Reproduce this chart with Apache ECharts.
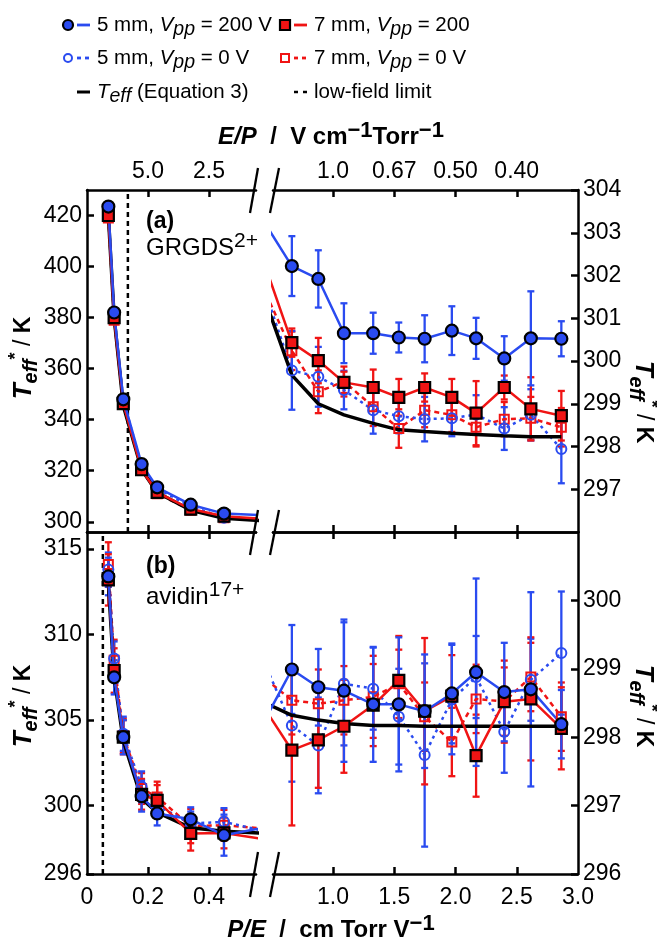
<!DOCTYPE html>
<html><head><meta charset="utf-8">
<script src="https://cdn.jsdelivr.net/npm/echarts@6/dist/echarts.min.js"></script>
<style>html,body{margin:0;padding:0;background:#fff}#c{width:657px;height:944px}</style>
</head><body><div id="c"></div>
<script>
// ---------------- DATA ----------------
const pe = [0.070, 0.089, 0.119, 0.179, 0.230, 0.340, 0.449, 0.664, 0.880, 1.089, 1.328, 1.537, 1.748, 1.970, 2.168, 2.398, 2.615, 2.864];

// Panel (a) GRGDS2+
const a5mm200    = [423.5, 382.0, 348.0, 322.6, 313.5, 306.7, 303.2, 302.22, 301.92, 300.65, 300.65, 300.55, 300.52, 300.71, 300.53, 300.06, 300.53, 300.52];
const a5mm200Err = [1.0, 1.0, 0.8, 0.7, 0.6, 0.6, 0.6, 0.70, 0.67, 0.70, 0.48, 0.35, 0.55, 0.57, 0.48, 0.52, 1.10, 0.41];
const a7mm200    = [420.0, 380.0, 346.3, 320.4, 311.5, 305.0, 302.2, 300.43, 300.01, 299.50, 299.38, 299.15, 299.38, 299.15, 298.78, 299.38, 298.88, 298.72];
const a7mm200Err = [1.0, 1.0, 0.8, 0.7, 0.6, 0.6, 0.6, 0.33, 0.53, 0.25, 0.42, 0.43, 0.33, 0.43, 0.75, 0.28, 0.74, 0.58];
const a5mm0      = [422.0, 381.0, 347.5, 322.0, 313.0, 306.0, 301.6, 299.78, 299.63, 299.32, 298.85, 298.71, 298.64, 298.66, 298.75, 298.42, 298.74, 297.94];
const a5mm0Err   = [1.0, 1.0, 0.8, 0.7, 0.6, 0.6, 0.6, 0.92, 0.70, 0.45, 0.55, 0.40, 0.52, 0.42, 0.45, 0.50, 0.60, 0.80];
const a7mm0      = [419.0, 379.0, 346.0, 320.5, 311.0, 304.5, 301.6, 300.24, 299.28, 299.52, 298.93, 298.42, 298.85, 298.74, 298.45, 298.64, 298.66, 298.45];
const a7mm0Err   = [1.0, 1.0, 0.8, 0.7, 0.6, 0.6, 0.6, 0.45, 0.50, 0.35, 0.45, 0.45, 0.40, 0.40, 0.45, 0.40, 0.50, 0.45];
const aTeff      = [420.0, 380.0, 345.5, 320.5, 311.5, 304.5, 301.4, 299.67, 299.00, 298.74, 298.54, 298.39, 298.35, 298.31, 298.28, 298.25, 298.23, 298.23];

// Panel (b) avidin17+
const b5mm200    = [313.4, 307.5, 304.0, 300.55, 299.54, 299.20, 298.27, 298.99, 298.73, 298.68, 298.48, 298.48, 298.38, 298.64, 298.95, 298.66, 298.70, 298.19];
const b5mm200Err = [1.1, 1.0, 1.0, 0.9, 0.7, 0.7, 1.2, 0.65, 0.56, 1.04, 0.84, 0.98, 0.83, 0.73, 1.37, 0.72, 1.42, 0.50];
const b7mm200    = [313.2, 307.9, 304.0, 300.66, 300.30, 298.37, 298.40, 297.81, 297.96, 298.16, 298.47, 298.83, 298.38, 298.60, 297.73, 298.52, 298.56, 298.13];
const b7mm200Err = [1.5, 1.3, 1.0, 0.9, 0.9, 1.0, 0.9, 1.10, 0.70, 0.68, 0.60, 0.65, 1.07, 0.60, 0.60, 0.60, 0.90, 0.60];
const b5mm0      = [313.8, 308.6, 304.2, 301.1, 300.0, 298.95, 299.05, 298.17, 297.88, 298.78, 298.71, 298.30, 297.74, 298.55, 298.88, 298.08, 298.84, 299.23];
const b5mm0Err   = [1.0, 1.0, 1.0, 0.9, 0.7, 0.7, 0.8, 0.82, 0.70, 0.90, 0.60, 0.70, 1.34, 0.80, 0.60, 0.60, 0.60, 0.90];
const b7mm0      = [314.1, 308.5, 304.1, 301.0, 300.5, 298.8, 298.85, 298.54, 298.49, 298.54, 298.59, 298.78, 298.30, 297.93, 298.56, 298.52, 298.88, 298.30];
const b7mm0Err   = [1.3, 1.2, 1.0, 0.9, 0.9, 1.0, 0.9, 0.50, 0.50, 0.50, 0.60, 0.50, 0.50, 0.50, 0.50, 0.50, 0.50, 0.50];
const bTeff      = [313.0, 307.5, 303.8, 300.4, 299.6, 298.7, 298.5, 298.32, 298.25, 298.20, 298.17, 298.17, 298.16, 298.16, 298.16, 298.16, 298.16, 298.16];

const lowFieldLimit = [0.134, 0.052];   // P/E of low-field limit, panels (a), (b)

// axis ranges and ticks
const xRangeLeft  = [0, 0.554];
const xRangeRight = [0.51, 3.0];
const xTicksLeft  = [0, 0.2, 0.4];
const xLabelsLeft = ['0', '0.2', '0.4'];
const xTicksRight = [1.0, 1.5, 2.0, 2.5, 3.0];
const xLabelsRight = ['1.0', '1.5', '2.0', '2.5', '3.0'];
const topTicksLeft = [0.2, 0.4];
const topLabelsLeft = ['5.0', '2.5'];
const topTicksRight = [1.0, 1.5, 2.0, 2.5];
const topLabelsRight = ['1.0', '0.67', '0.50', '0.40'];
const yRangeALeft = [296, 430];
const yTicksALeft = [300, 320, 340, 360, 380, 400, 420];
const yRangeARight = [296, 304];
const yTicksARight = [297, 298, 299, 300, 301, 302, 303, 304];
const yRangeBLeft = [296, 316];
const yTicksBLeft = [296, 300, 305, 310, 315];
const yRangeBRight = [296, 301];
const yTicksBRight = [296, 297, 298, 299, 300];

const legendLabels = [
  '{n|5 mm, }{i|V}{s|pp}{n| = 200 V}',
  '{n|7 mm, }{i|V}{s|pp}{n| = 200}',
  '{n|5 mm, }{i|V}{s|pp}{n| = 0 V}',
  '{n|7 mm, }{i|V}{s|pp}{n| = 0 V}',
  '{i|T}{s|eff}{n| (Equation 3)}',
  '{n|low-field limit}'
];

// ---------------- STYLE ----------------
const BLUE = '#2A4BF0', RED = '#F01414', BLACK = '#000';
const FONT = '"Liberation Sans", Arial, sans-serif';
const styles = {
  s7_0:   {color: RED,  width: 2.5, type: [5, 4], symbol: 'rect',   size: 9,  fill: 'rgba(255,255,255,0)', border: RED,  bw: 2},
  s5_0:   {color: BLUE, width: 2.5, type: [3, 4], symbol: 'circle', size: 10, fill: 'rgba(255,255,255,0)', border: BLUE, bw: 2},
  teff:   {color: BLACK, width: 3.5, type: 'solid', symbol: 'none'},
  s7_200: {color: RED,  width: 2.5, type: 'solid', symbol: 'rect',   size: 11, fill: RED,  border: BLACK, bw: 2.2},
  s5_200: {color: BLUE, width: 2.5, type: 'solid', symbol: 'circle', size: 12, fill: BLUE, border: BLACK, bw: 2.2}
};

const panels = [
  {grids: [0, 1], yRanges: [yRangeALeft, yRangeARight], low: lowFieldLimit[0],
   vals: {s7_0: a7mm0, s5_0: a5mm0, teff: aTeff, s7_200: a7mm200, s5_200: a5mm200},
   errs: {s7_0: a7mm0Err, s5_0: a5mm0Err, s7_200: a7mm200Err, s5_200: a5mm200Err}},
  {grids: [2, 3], yRanges: [yRangeBLeft, yRangeBRight], low: lowFieldLimit[1],
   vals: {s7_0: b7mm0, s5_0: b5mm0, teff: bTeff, s7_200: b7mm200, s5_200: b5mm200},
   errs: {s7_0: b7mm0Err, s5_0: b5mm0Err, s7_200: b7mm200Err, s5_200: b5mm200Err}}
];

// ---------------- LAYOUT ----------------
const gridBoxes = [
  {left: 87,  top: 190, width: 169, height: 342},
  {left: 273, top: 190, width: 305, height: 342},
  {left: 87,  top: 532, width: 169, height: 342},
  {left: 273, top: 532, width: 305, height: 342}
];

const axisLineStyle = {color: BLACK, width: 2.5};
const labelStyle = {color: BLACK, fontSize: 23, fontFamily: FONT};

const xAxes = [];
gridBoxes.forEach((g, i) => {
  const isLeft = i % 2 === 0;
  const isTopPanel = i < 2;
  const r = isLeft ? xRangeLeft : xRangeRight;
  const tTicks = isLeft ? topTicksLeft : topTicksRight;
  const tLabels = isLeft ? topLabelsLeft : topLabelsRight;
  const bTicks = isLeft ? xTicksLeft : xTicksRight;
  const bLabels = isLeft ? xLabelsLeft : xLabelsRight;
  xAxes.push({
    type: 'value', gridIndex: i, position: 'bottom', min: r[0], max: r[1],
    axisLine: {onZero: false, lineStyle: axisLineStyle},
    axisTick: {inside: true, length: 7, lineStyle: axisLineStyle, customValues: tTicks},
    axisLabel: isTopPanel ? {show: false} : Object.assign({show: true, margin: 12, customValues: bTicks,
      formatter: v => { const k = bTicks.findIndex(t => Math.abs(t - v) < 1e-6); return k >= 0 ? bLabels[k] : ''; }}, labelStyle),
    splitLine: {show: false}
  });
  xAxes.push({
    type: 'value', gridIndex: i, position: 'top', min: r[0], max: r[1],
    axisLine: {onZero: false, lineStyle: axisLineStyle},
    axisTick: {inside: true, length: 7, lineStyle: axisLineStyle, customValues: tTicks},
    axisLabel: isTopPanel ? Object.assign({show: true, margin: 7, customValues: tTicks,
      formatter: v => { const k = tTicks.findIndex(t => Math.abs(t - v) < 1e-6); return k >= 0 ? tLabels[k] : ''; }}, labelStyle) : {show: false},
    splitLine: {show: false}
  });
});

const yDefs = [
  {r: yRangeALeft, t: yTicksALeft, pos: 'left'},
  {r: yRangeARight, t: yTicksARight, pos: 'right'},
  {r: yRangeBLeft, t: yTicksBLeft, pos: 'left'},
  {r: yRangeBRight, t: yTicksBRight, pos: 'right'}
];
const yAxes = yDefs.map((d, i) => ({
  type: 'value', gridIndex: i, position: d.pos, min: d.r[0], max: d.r[1],
  axisLine: {onZero: false, lineStyle: axisLineStyle},
  axisTick: {inside: true, length: 7, lineStyle: axisLineStyle, customValues: d.t},
  axisLabel: Object.assign({show: true, margin: 5, customValues: d.t, formatter: v => String(Math.round(v))}, labelStyle),
  splitLine: {show: false}
}));

// ---------------- SERIES ----------------
function makeErr(color) {
  return function (params, api) {
    const x = api.value(0), lo = api.value(1), hi = api.value(2);
    const p1 = api.coord([x, hi]), p2 = api.coord([x, lo]);
    const hw = 3.5;
    const st = {stroke: color, lineWidth: 2.3};
    return {type: 'group', children: [
      {type: 'line', shape: {x1: p1[0], y1: p1[1], x2: p2[0], y2: p2[1]}, style: st},
      {type: 'line', shape: {x1: p1[0] - hw, y1: p1[1], x2: p1[0] + hw, y2: p1[1]}, style: st},
      {type: 'line', shape: {x1: p2[0] - hw, y1: p2[1], x2: p2[0] + hw, y2: p2[1]}, style: st}
    ]};
  };
}
const series = [];
const order = ['s7_0', 's5_0', 'teff', 's7_200', 's5_200'];
panels.forEach(p => {
  p.grids.forEach((g, gi) => {
    const r = gi === 0 ? xRangeLeft : xRangeRight;
    const yr = p.yRanges[gi];
    ['s7_0', 's5_0', 's7_200', 's5_200'].forEach(k => {
      const vals = p.vals[k], errs = p.errs[k];
      const data = [];
      pe.forEach((x, i) => { if (x >= r[0] && x <= r[1]) data.push([x, vals[i] - errs[i], vals[i] + errs[i]]); });
      series.push({type: 'custom', xAxisIndex: 2 * g, yAxisIndex: g, clip: true, silent: true,
        encode: {x: 0, y: [1, 2]}, data, renderItem: makeErr(styles[k].color)});
    });
    if (gi === 0) {
      series.push({type: 'line', xAxisIndex: 2 * g, yAxisIndex: g, silent: true, showSymbol: false,
        data: [[p.low, yr[0]], [p.low, yr[1]]], lineStyle: {color: BLACK, width: 2.5, type: [5, 4]}});
    }
    order.forEach(k => {
      const s = styles[k];
      const vals = p.vals[k];
      const item = {type: 'line', xAxisIndex: 2 * g, yAxisIndex: g, silent: true, clip: true,
        data: pe.map((x, i) => [x, vals[i]]),
        lineStyle: {color: s.color, width: s.width, type: s.type}};
      if (s.symbol === 'none') { item.showSymbol = false; item.symbol = 'none'; }
      else {
        item.symbol = s.symbol; item.symbolSize = s.size; item.showSymbol = true;
        item.itemStyle = {color: s.fill, borderColor: s.border, borderWidth: s.bw};
      }
      series.push(item);
    });
  });
});

// ---------------- GRAPHIC (legend, titles, breaks) ----------------
const graphic = [];
// break marks
[190, 532, 874].forEach(y => {
  [[258, 250], [279, 270]].forEach(([xa, xb]) => {
    graphic.push({type: 'line', z: 100, shape: {x1: xa, y1: y - 22, x2: xb, y2: y + 23}, style: {stroke: BLACK, lineWidth: 2.3}});
  });
});
const legRich = {
  n: {fontFamily: FONT, fontSize: 20.5, lineHeight: 30, fill: BLACK},
  i: {fontFamily: FONT, fontSize: 20.5, fontStyle: 'italic', lineHeight: 30, fill: BLACK},
  s: {fontFamily: FONT, fontSize: 19.5, fontStyle: 'italic', lineHeight: 18, verticalAlign: 'bottom', fill: BLACK}
};
const legItems = [
  {k: 's5_200', x: 68, y: 25}, {k: 's7_200', x: 285, y: 25},
  {k: 's5_0', x: 68, y: 58},   {k: 's7_0', x: 285, y: 58},
  {k: 'teff', x: 68, y: 92},   {k: 'low', x: 285, y: 92}
];
legItems.forEach((it, idx) => {
  const s = styles[it.k];
  const lx = it.x + 9;
  if (it.k === 'low') {
    graphic.push({type: 'line', z: 100, shape: {x1: lx, y1: it.y, x2: lx + 13, y2: it.y}, style: {stroke: BLACK, lineWidth: 2.5, lineDash: [4, 5]}});
  } else {
    graphic.push({type: 'line', z: 100, shape: {x1: lx, y1: it.y, x2: lx + 13, y2: it.y},
      style: {stroke: s.color, lineWidth: it.k === 'teff' ? 3 : 2.8, lineDash: Array.isArray(s.type) ? [4, 4] : null}});
    if (s.symbol === 'circle') {
      graphic.push({type: 'circle', z: 101, shape: {cx: it.x, cy: it.y, r: s.size / 2 - 1}, style: {fill: s.fill, stroke: s.border, lineWidth: s.bw}});
    } else if (s.symbol === 'rect') {
      const h = s.size / 2 - 0.5;
      graphic.push({type: 'rect', z: 101, shape: {x: it.x - h, y: it.y - h, width: 2 * h, height: 2 * h}, style: {fill: s.fill, stroke: s.border, lineWidth: s.bw}});
    }
  }
  graphic.push({type: 'text', z: 101, x: it.x + 29, y: it.y,
    style: {text: legendLabels[idx], align: 'left', verticalAlign: 'middle', fill: BLACK, rich: legRich}});
});

const titleRich = {
  b: {fontFamily: FONT, fontSize: 24, fontWeight: 'bold', lineHeight: 34, fill: BLACK},
  it: {fontFamily: FONT, fontSize: 24, fontWeight: 'bold', fontStyle: 'italic', lineHeight: 34, fill: BLACK},
  r: {fontFamily: FONT, fontSize: 23, lineHeight: 34, fill: BLACK},
  rb: {fontFamily: FONT, fontSize: 23, fontWeight: 'bold', lineHeight: 34, fill: BLACK},
  sup: {fontFamily: FONT, fontSize: 22, fontWeight: 'bold', lineHeight: 20, verticalAlign: 'top', fill: BLACK},
  T: {fontFamily: FONT, fontSize: 26, fontWeight: 'bold', fontStyle: 'italic', lineHeight: 34, fill: BLACK},
  e: {fontFamily: FONT, fontSize: 20, fontWeight: 'bold', fontStyle: 'italic', lineHeight: 22, verticalAlign: 'bottom', fill: BLACK},
  st: {fontFamily: FONT, fontSize: 18, fontWeight: 'bold', lineHeight: 28, verticalAlign: 'top', fill: BLACK}
};
graphic.push({type: 'text', z: 101, x: 331, y: 137,
  style: {text: '{it|E/P}{b|  /  V cm}{sup|\u22121}{b|Torr}{sup|\u22121}', align: 'center', verticalAlign: 'middle', rich: titleRich}});
graphic.push({type: 'text', z: 101, x: 331, y: 930,
  style: {text: '{it|P/E}{b|  /  cm Torr V}{sup|\u22121}', align: 'center', verticalAlign: 'middle', rich: titleRich}});
const yTitle = '{T|T}{e|eff}{st|*}{r| / }{rb|K}';
[[24, 358, Math.PI / 2], [24, 706, Math.PI / 2], [643, 402, -Math.PI / 2], [643, 706, -Math.PI / 2]].forEach(([x, y, rot]) => {
  graphic.push({type: 'text', z: 101, x, y, rotation: rot,
    style: {text: yTitle, align: 'center', verticalAlign: 'middle', rich: titleRich}});
});
const panelRich = {
  b: {fontFamily: FONT, fontSize: 23, fontWeight: 'bold', lineHeight: 30, fill: BLACK},
  n: {fontFamily: FONT, fontSize: 24, lineHeight: 34, fill: BLACK},
  sup: {fontFamily: FONT, fontSize: 21, lineHeight: 20, verticalAlign: 'top', fill: BLACK}
};
graphic.push({type: 'text', z: 101, x: 146, y: 222, style: {text: '{b|(a)}', align: 'left', verticalAlign: 'middle', rich: panelRich}});
graphic.push({type: 'text', z: 101, x: 146, y: 248, style: {text: '{n|GRGDS}{sup|2+}', align: 'left', verticalAlign: 'middle', rich: panelRich}});
graphic.push({type: 'text', z: 101, x: 146, y: 567, style: {text: '{b|(b)}', align: 'left', verticalAlign: 'middle', rich: panelRich}});
graphic.push({type: 'text', z: 101, x: 146, y: 597, style: {text: '{n|avidin}{sup|17+}', align: 'left', verticalAlign: 'middle', rich: panelRich}});

const chart = echarts.init(document.getElementById('c'), null, {renderer: 'canvas', width: 657, height: 944});
chart.setOption({
  animation: false,
  backgroundColor: '#fff',
  grid: gridBoxes.map(g => Object.assign({containLabel: false}, g)),
  xAxis: xAxes,
  yAxis: yAxes,
  series,
  graphic
});
</script>
</body></html>
